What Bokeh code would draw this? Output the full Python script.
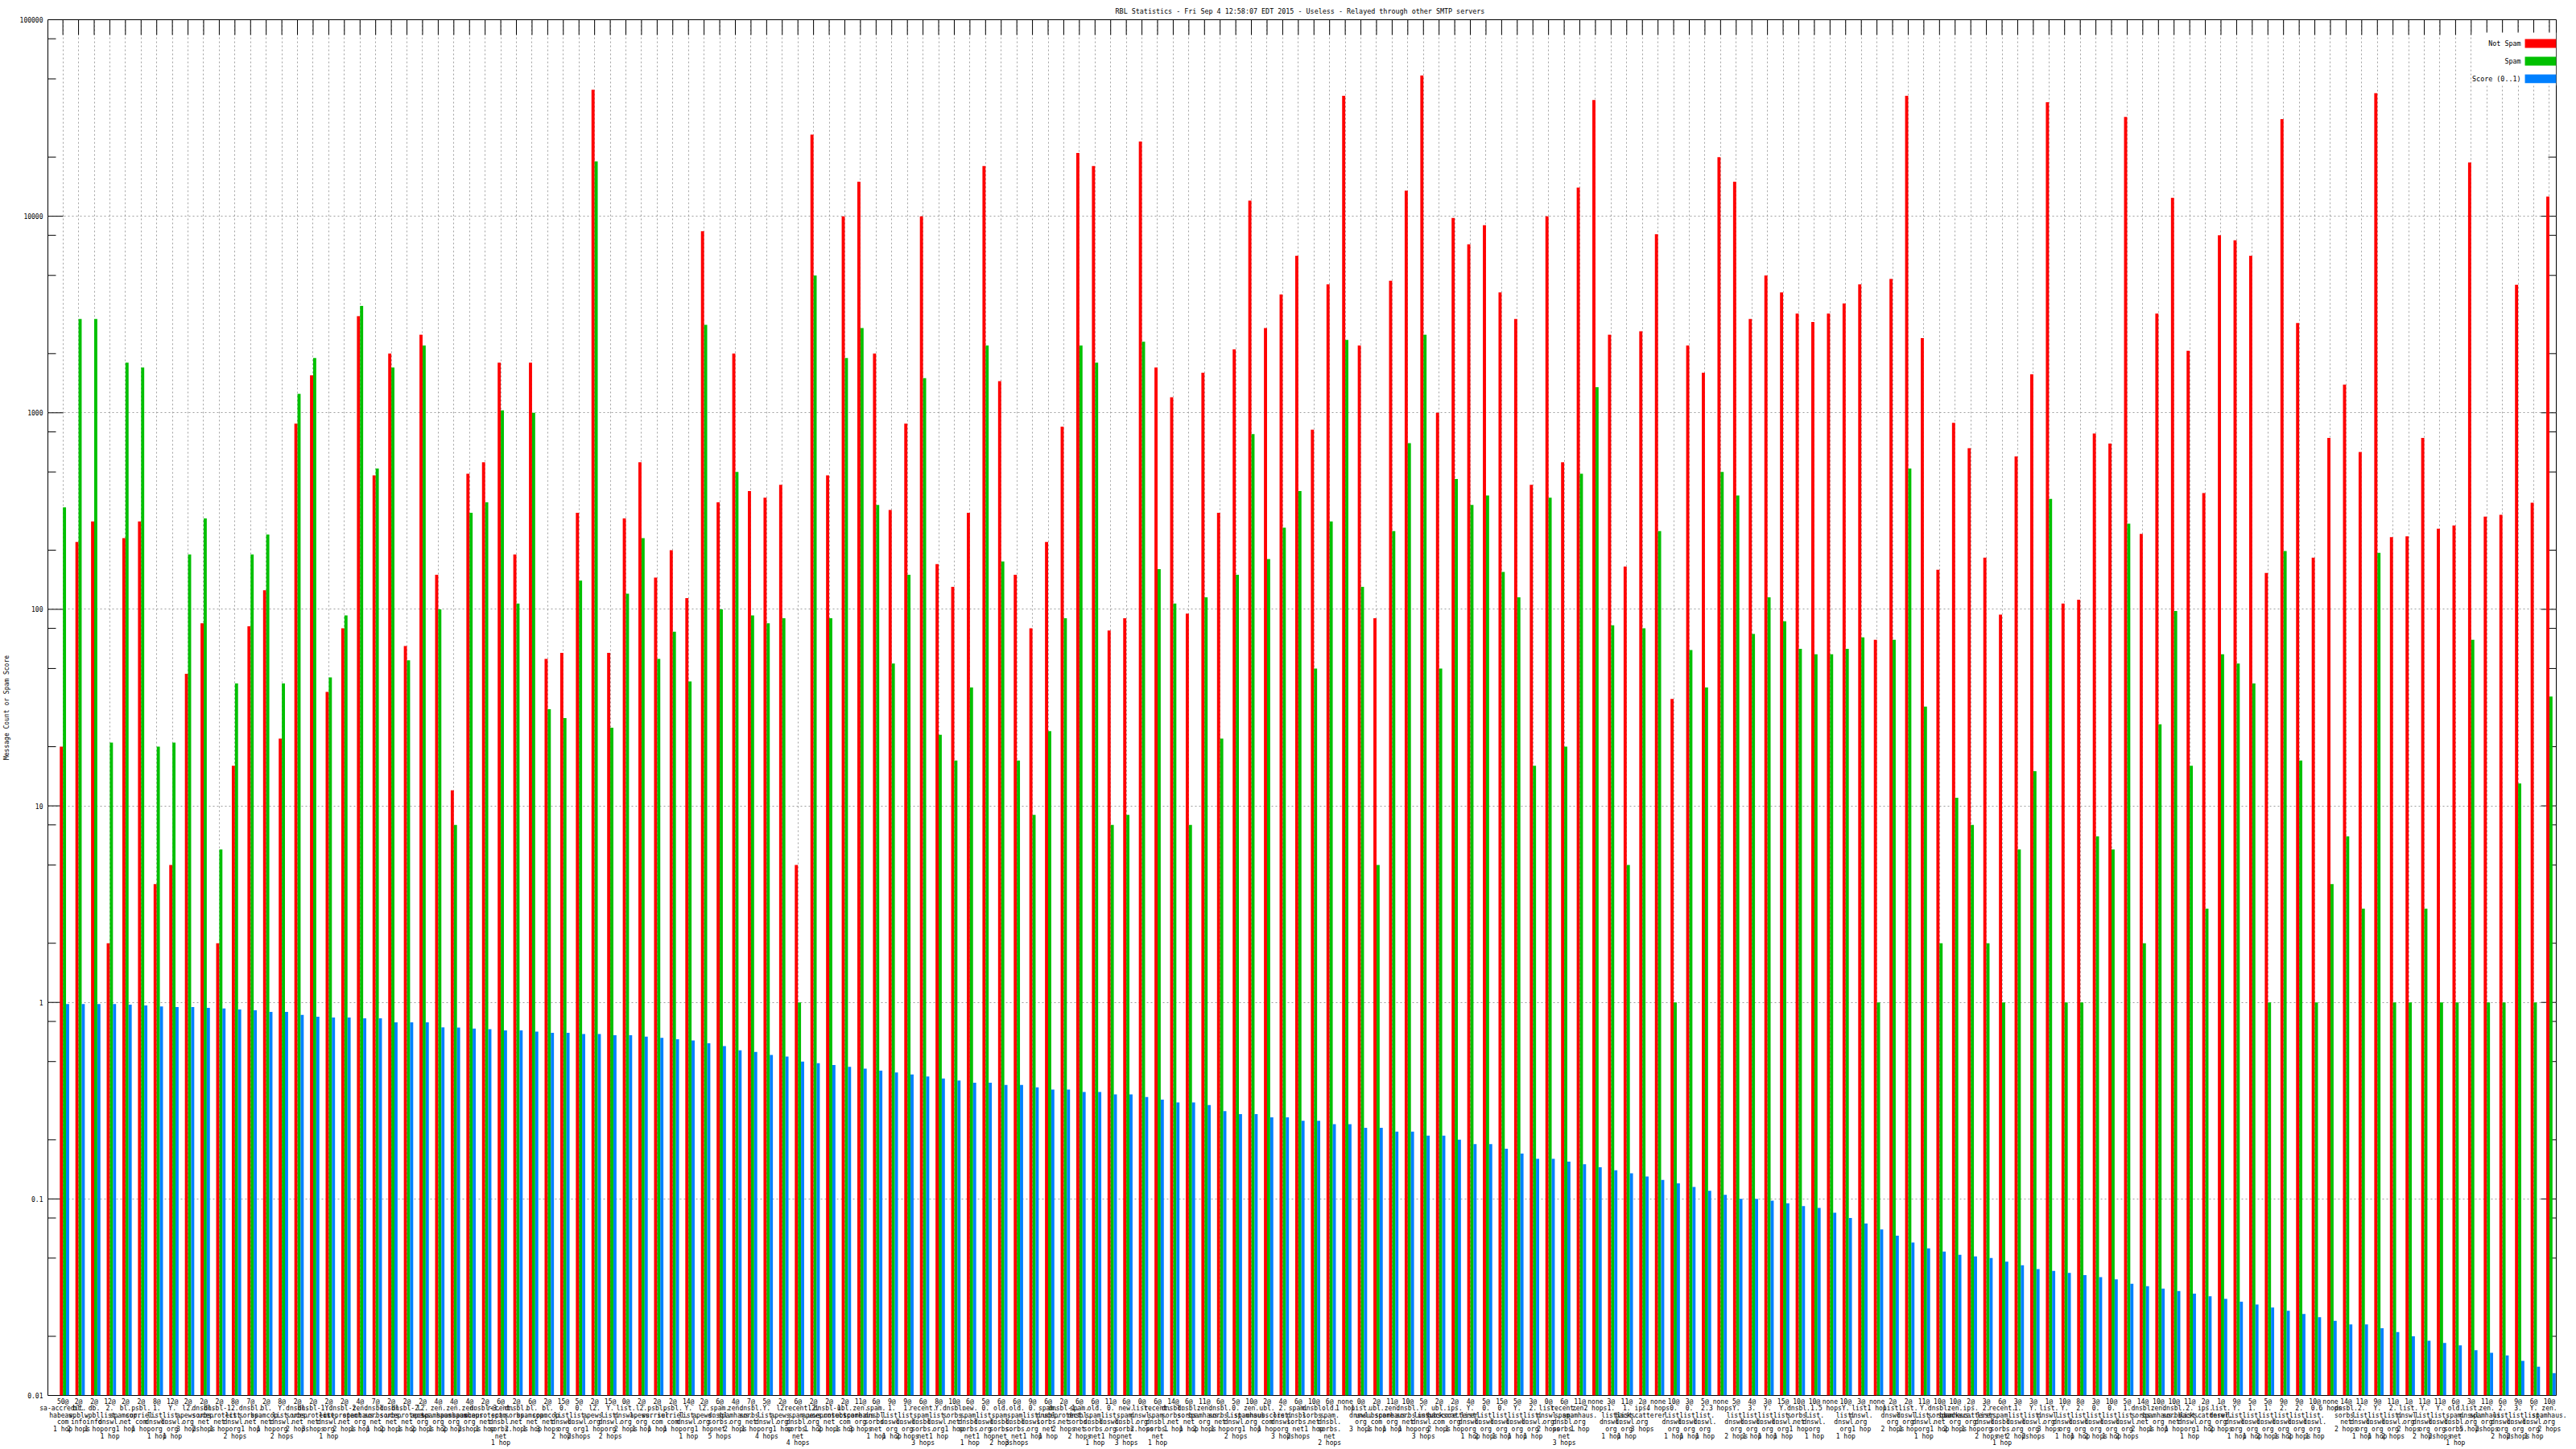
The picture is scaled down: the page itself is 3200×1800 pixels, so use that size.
from bokeh.plotting import figure
from bokeh.models import (ColumnDataSource, Range1d, FixedTicker, LinearAxis, Label, BoxAnnotation)
from bokeh.embed import file_html
from bokeh.resources import INLINE

TITLE = "RBL Statistics - Fri Sep  4 12:58:07 EDT 2015 - Useless - Relayed through other SMTP servers"
Y_LABEL = "Message Count or Spam Score"
SERIES = ["Not Spam", "Spam", "Score (0..1)"]
COLORS = ["#ff0000", "#00c000", "#0080ff"]

# first label row: hit marker (None -> "none")
hits = [50, 2, 2, 12, 2, 2, 8, 12, 2, 2, 2, 8, 7, 2, 8, 2, 2, 2, 2, 4, 7, 2, 2, 2, 4,
        4, 4, 2, 6, 2, 6, 2, 15, 5, 2, 15, 0, 2, 2, 2, 14, 2, 6, 4, 7, 5, 2, 6, 2, 2, 2, 11,
        6, 9, 9, 6, 8, 10, 6, 5, 6, 6, 9, 6, 2, 6, 6, 11, 6, 0, 6, 14, 6, 11, 6, 5, 10, 2, 4,
        6, 10, 6, None, 0, 2, 11, 10, 5, 2, 2, 4, 5, 15, 5, 3, 0, 6, 11, None, 3, 11, 2, None, 10, 3, 5,
        None, 5, 4, 3, 15, 10, 10, None, 10, 3, None, 2, 2, 11, 10, 10, 2, 3, 6, 3, 3, 1, 10, 8, 3, 10,
        5, 14, 10, 10, 11, 2, 1, 9, 5, 5, 9, 9, 10, None, 14, 11, 9, 11, 1, 11, 11, 6, 3, 11, 6, 9, 6, 10]

zones = [
    "sa-accredit.habeas.com", "bl.wpbl.info", "db.wpbl.info", "2.list.dnswl.org", "bl.spamcop.net",
    "psbl.surriel.com", "1.list.dnswl.org", "Y.list.dnswl.org", "l2.apews.org", "dnsbl.sorbs.net",
    "dnsbl-1.uceprotect.net", "2.list.dnswl.org", "dnsbl.sorbs.net", "bl.spamcop.net", "Y.list.dnswl.org",
    "dnsbl.sorbs.net", "dnsbl-1.uceprotect.net", "Y.list.dnswl.org", "dnsbl-2.uceprotect.net", "zen.spamhaus.org",
    "dnsbl.sorbs.net", "dnsbl.sorbs.net", "dnsbl-2.uceprotect.net", "l2.apews.org", "zen.spamhaus.org",
    "zen.spamhaus.org", "zen.spamhaus.org", "dnsbl-3.uceprotect.net", "recent.spam.dnsbl.sorbs.net", "dnsbl.sorbs.net",
    "bl.spamcop.net", "bl.spamcop.net", "0.list.dnswl.org", "0.list.dnswl.org", "l2.apews.org",
    "Y.list.dnswl.org", "list.dnswl.org", "l2.apews.org", "psbl.surriel.com", "psbl.surriel.com",
    "Y.list.dnswl.org", "l2.apews.org", "spam.dnsbl.sorbs.net", "zen.spamhaus.org", "dnsbl.sorbs.net",
    "Y.list.dnswl.org", "l2.apews.org", "recent.spam.dnsbl.sorbs.net", "l2.apews.org", "dnsbl-1.uceprotect.net",
    "ubl.unsubscore.com", "zen.spamhaus.org", "spam.dnsbl.sorbs.net", "1.list.dnswl.org", "1.list.dnswl.org",
    "recent.spam.dnsbl.sorbs.net", "Y.list.dnswl.org", "dnsbl.sorbs.net", "new.spam.dnsbl.sorbs.net", "0.list.dnswl.org",
    "old.spam.dnsbl.sorbs.net", "old.spam.dnsbl.sorbs.net", "0.list.dnswl.org", "spam.dnsbl.sorbs.net", "dnsbl-1.uceprotect.net",
    "spam.dnsbl.sorbs.net", "old.spam.dnsbl.sorbs.net", "0.list.dnswl.org", "new.spam.dnsbl.sorbs.net", "list.dnswl.org",
    "recent.spam.dnsbl.sorbs.net", "dnsbl.sorbs.net", "dnsbl.sorbs.net", "zen.spamhaus.org", "dnsbl.sorbs.net",
    "0.list.dnswl.org", "zen.spamhaus.org", "ubl.unsubscore.com", "2.list.dnswl.org", "spam.dnsbl.sorbs.net",
    "dnsbl.sorbs.net", "old.spam.dnsbl.sorbs.net", "", "list.dnswl.org", "ubl.unsubscore.com",
    "zen.spamhaus.org", "dnsbl.sorbs.net", "Y.list.dnswl.org", "ubl.unsubscore.com", "ips.backscatterer.org",
    "Y.list.dnswl.org", "0.list.dnswl.org", "0.list.dnswl.org", "Y.list.dnswl.org", "2.list.dnswl.org",
    "list.dnswl.org", "recent.spam.dnsbl.sorbs.net", "zen.spamhaus.org", "", "1.list.dnswl.org",
    "1.list.dnswl.org", "ips.backscatterer.org", "", "0.list.dnswl.org", "0.list.dnswl.org",
    "2.list.dnswl.org", "", "Y.list.dnswl.org", "3.list.dnswl.org", "Y.list.dnswl.org",
    "Y.list.dnswl.org", "dnsbl.sorbs.net", "1.list.dnswl.org", "", "Y.list.dnswl.org",
    "list.dnswl.org", "", "list.dnswl.org", "list.dnswl.org", "Y.list.dnswl.org",
    "dnsbl.sorbs.net", "zen.spamhaus.org", "ips.backscatterer.org", "2.list.dnswl.org", "recent.spam.dnsbl.sorbs.net",
    "1.list.dnswl.org", "Y.list.dnswl.org", "list.dnswl.org", "Y.list.dnswl.org", "2.list.dnswl.org",
    "0.list.dnswl.org", "0.list.dnswl.org", "1.list.dnswl.org", "dnsbl.sorbs.net", "zen.spamhaus.org",
    "dnsbl.sorbs.net", "2.list.dnswl.org", "ips.backscatterer.org", "list.dnswl.org", "Y.list.dnswl.org",
    "1.list.dnswl.org", "1.list.dnswl.org", "2.list.dnswl.org", "2.list.dnswl.org", "0.list.dnswl.org",
    "", "dnsbl.sorbs.net", "2.list.dnswl.org", "Y.list.dnswl.org", "2.list.dnswl.org",
    "list.dnswl.org", "Y.list.dnswl.org", "Y.list.dnswl.org", "old.spam.dnsbl.sorbs.net", "list.dnswl.org",
    "zen.spamhaus.org", "2.list.dnswl.org", "3.list.dnswl.org", "Y.list.dnswl.org", "zen.spamhaus.org",
]

hops = [1, 2, 1, 1, 1, 1, 1, 1, 3, 2, 1, 2, 1, 1, 2, 2, 3, 1, 2, 1, 1, 2, 1, 2, 1,
        2, 2, 1, 1, 2, 1, 3, 2, 2, 1, 2, 2, 1, 1, 1, 1, 1, 5, 2, 1, 4, 1, 4, 1, 2, 1, 3,
        1, 1, 2, 3, 1, 1, 1, 1, 2, 3, 1, 1, 2, 2, 1, 1, 3, 2, 1, 1, 1, 2, 1, 2, 1, 1, 3,
        2, 1, 2, 1, 3, 1, 1, 1, 3, 2, 1, 1, 2, 1, 1, 1, 2, 3, 1, 2, 1, 1, 3, 4, 1, 1, 1,
        3, 2, 1, 1, 1, 1, 1, 5, 1, 1, 1, 2, 1, 1, 1, 2, 1, 2, 1, 2, 2, 3, 1, 1, 2, 1,
        2, 2, 1, 1, 1, 1, 2, 1, 1, 2, 1, 2, 1, 6, 2, 1, 1, 2, 2, 2, 2, 1, 5, 2, 2, 2, 1, 2]

not_spam = [20, 220, 280, 2, 230, 280, 4, 5, 47, 85,
            2, 16, 82, 125, 22, 880, 1550, 38, 80, 3100,
            480, 2000, 65, 2500, 150, 12, 490, 560, 1800, 190,
            1800, 56, 60, 310, 44000, 60, 290, 560, 145, 200,
            114, 8400, 350, 2000, 400, 370, 430, 5, 26000, 480,
            10000, 15000, 2000, 320, 880, 10000, 170, 130, 310, 18000,
            1450, 150, 80, 220, 850, 21000, 18000, 78, 90, 24000,
            1700, 1200, 95, 1600, 310, 2100, 12000, 2700, 4000, 6300,
            820, 4500, 41000, 2200, 90, 4700, 13500, 52000, 1000, 9800,
            7200, 9000, 4100, 3000, 430, 10000, 560, 14000, 39000, 2500,
            165, 2600, 8100, 35, 2200, 1600, 20000, 15000, 3000, 5000,
            4100, 3200, 2900, 3200, 3600, 4500, 70, 4800, 41000, 2400,
            159, 890, 660, 183, 94, 600, 1570, 38000, 107, 112,
            785, 697, 32000, 242, 3200, 12400, 2070, 390, 8000, 7540,
            6300, 153, 31200, 2860, 183, 745, 1390, 632, 42300, 233,
            235, 745, 257, 267, 18800, 296, 303, 4480, 349, 12600]

spam = [330, 3000, 3000, 21, 1800, 1700, 20, 21, 190, 290,
        6, 42, 190, 240, 42, 1250, 1900, 45, 93, 3500,
        520, 1700, 55, 2200, 100, 8, 310, 350, 1030, 107,
        1000, 31, 28, 140, 19000, 25, 120, 230, 56, 77,
        43, 2800, 100, 500, 93, 85, 90, 1, 5000, 90,
        1900, 2700, 340, 53, 150, 1500, 23, 17, 40, 2200,
        175, 17, 9, 24, 90, 2200, 1800, 8, 9, 2300,
        160, 107, 8, 115, 22, 150, 780, 180, 260, 400,
        50, 280, 2350, 130, 5, 250, 700, 2500, 50, 460,
        340, 380, 155, 115, 16, 370, 20, 490, 1350, 83,
        5, 80, 250, 1, 62, 40, 500, 380, 75, 115,
        87, 63, 59, 59, 63, 72, 1, 70, 520, 32,
        2, 11, 8, 2, 1, 6, 15, 365, 1, 1,
        7, 6, 273, 2, 26, 98, 16, 3, 59, 53,
        42, 1, 198, 17, 1, 4, 7, 3, 194, 1,
        1, 3, 1, 1, 70, 1, 1, 13, 1, 36]

score = [0.982, 0.982, 0.982, 0.982, 0.975, 0.965, 0.954, 0.947, 0.947, 0.937,
         0.931, 0.921, 0.911, 0.895, 0.895, 0.863, 0.845, 0.838, 0.838, 0.829,
         0.829, 0.791, 0.791, 0.791, 0.747, 0.745, 0.735, 0.73, 0.72, 0.72,
         0.71, 0.70, 0.70, 0.69, 0.69, 0.68, 0.68, 0.67, 0.66, 0.65,
         0.64, 0.62, 0.60, 0.57, 0.56, 0.54, 0.53, 0.50, 0.49, 0.48,
         0.47, 0.46, 0.45, 0.44, 0.43, 0.42, 0.41, 0.40, 0.39, 0.39,
         0.38, 0.38, 0.37, 0.36, 0.36, 0.35, 0.35, 0.34, 0.34, 0.33,
         0.32, 0.31, 0.31, 0.30, 0.28, 0.27, 0.27, 0.26, 0.26, 0.25,
         0.25, 0.24, 0.24, 0.23, 0.23, 0.22, 0.22, 0.21, 0.21, 0.20,
         0.19, 0.19, 0.18, 0.17, 0.16, 0.16, 0.155, 0.15, 0.145, 0.14,
         0.135, 0.13, 0.125, 0.12, 0.115, 0.11, 0.105, 0.10, 0.10, 0.098,
         0.095, 0.092, 0.09, 0.085, 0.08, 0.075, 0.07, 0.065, 0.06, 0.056,
         0.054, 0.052, 0.051, 0.050, 0.048, 0.046, 0.044, 0.043, 0.042, 0.041,
         0.040, 0.039, 0.037, 0.036, 0.035, 0.034, 0.033, 0.032, 0.031, 0.030,
         0.029, 0.028, 0.027, 0.026, 0.025, 0.024, 0.023, 0.023, 0.022, 0.021,
         0.020, 0.019, 0.0185, 0.018, 0.017, 0.0165, 0.016, 0.015, 0.014, 0.013]

y_ticks = [0.01, 0.1, 1, 10, 100, 1000, 10000, 100000]
y_tick_labels = ["0.01", "0.1", "1", "10", "100", "1000", "10000", "100000"]

# ---------------- layout geometry (page pixels; the page has no margin) ----------------
W, H = 3200, 1800
F_LEFT, F_RIGHT, F_TOP, F_BOTTOM = 55, 3175, 24, 1736
X0, X1 = -0.96, 159.44
LY0, LY1 = -2.0, 5.0
FONT = "DejaVu Sans Mono"
MAJOR_LEN, MINOR_LEN = 19, 10


def xd(px):
    return X0 + (px - F_LEFT) * (X1 - X0) / (F_RIGHT - F_LEFT)


def yd(py):
    return 10 ** (LY1 - (py - F_TOP) * (LY1 - LY0) / (F_BOTTOM - F_TOP))


n = len(not_spam)
idx = list(range(n))
labels = []
for i in idx:
    hop = "1 hop" if hops[i] == 1 else f"{hops[i]} hops"
    if hits[i] is None:
        labels.append("none\n" + hop)
    else:
        labels.append(f"{hits[i]}@\n" + zones[i].replace(".", ".\n") + "\n" + hop)

src = ColumnDataSource(dict(
    x=idx, not_spam=not_spam, spam=spam, score=score,
    xr=[i - 0.1 for i in idx], xg=[i + 0.1 for i in idx], xb=[i + 0.3 for i in idx],
    base=[y_ticks[0]] * n,
))

p = figure(width=W, height=H, output_backend="svg", toolbar_location=None,
           x_range=Range1d(X0, X1), y_range=Range1d(y_ticks[0], y_ticks[-1]),
           y_axis_type="log", x_axis_location=None,
           min_border_left=F_LEFT, min_border_right=W - F_RIGHT,
           min_border_top=F_TOP, min_border_bottom=H - F_BOTTOM)
p.background_fill_color = "white"
p.border_fill_color = "white"
p.outline_line_color = "black"
p.outline_line_width = 1
p.outline_line_alpha = 1

# title
p.title.text = TITLE
p.title.align = "center"
p.title.text_font = FONT
p.title.text_font_size = "8.4px"
p.title.text_font_style = "normal"
p.title.text_color = "black"
p.title.standoff = 11

# grids
p.xgrid.ticker = FixedTicker(ticks=idx)
p.ygrid.ticker = FixedTicker(ticks=y_ticks)
for g in (p.xgrid, p.ygrid):
    g.grid_line_color = "#a0a0a0"
    g.grid_line_dash = "2 3"
    g.grid_line_width = 1

minor = [m * t for t in y_ticks[:-1] for m in (2, 5, 8)]

# left axis: labels only (tick marks are drawn beneath the bars below)
ax = p.yaxis[0]
ax.ticker = FixedTicker(ticks=y_ticks, minor_ticks=minor)
ax.major_tick_in = 0
ax.major_tick_out = 0
ax.minor_tick_in = 0
ax.minor_tick_out = 0
ax.axis_line_color = None
ax.major_label_overrides = {t: s for t, s in zip(y_ticks, y_tick_labels)}
ax.major_label_text_font = FONT
ax.major_label_text_font_size = "8px"
ax.major_label_text_color = "black"
ax.major_label_standoff = 6
ax.axis_label = Y_LABEL
ax.axis_label_text_font = FONT
ax.axis_label_text_font_size = "8px"
ax.axis_label_text_font_style = "normal"
ax.axis_label_text_color = "black"
ax.axis_label_standoff = 9

# bottom axis carrying the multi-line category labels
bx = LinearAxis(ticker=FixedTicker(ticks=idx, minor_ticks=[]))
bx.major_label_overrides = {i: labels[i] for i in idx}
bx.major_tick_in = 0
bx.major_tick_out = 0
bx.minor_tick_in = 0
bx.minor_tick_out = 0
bx.axis_line_color = None
bx.major_label_standoff = 3
bx.major_label_text_font = FONT
bx.major_label_text_font_size = "8px"
bx.major_label_text_line_height = 0.96
bx.major_label_text_color = "black"
p.add_layout(bx, "below")

# tick marks on all four frame edges (inward), drawn beneath the bars
top_ticks = ColumnDataSource(dict(x=idx, y0=[y_ticks[-1]] * n, y1=[yd(F_TOP + MAJOR_LEN)] * n))
p.segment(x0="x", y0="y0", x1="x", y1="y1", source=top_ticks, line_color="black", line_width=1)
ry = y_ticks + minor
rlen = [MAJOR_LEN] * len(y_ticks) + [MINOR_LEN] * len(minor)
side_ticks = ColumnDataSource(dict(
    y=ry,
    lx0=[X0] * len(ry), lx1=[xd(F_LEFT + L) for L in rlen],
    rx0=[X1] * len(ry), rx1=[xd(F_RIGHT - L) for L in rlen],
))
p.segment(x0="lx0", y0="y", x1="lx1", y1="y", source=side_ticks, line_color="black", line_width=1)
p.segment(x0="rx0", y0="y", x1="rx1", y1="y", source=side_ticks, line_color="black", line_width=1)

# bars
p.vbar(x="xr", width=0.2, top="not_spam", bottom="base", source=src,
       fill_color=COLORS[0], line_color=None)
p.vbar(x="xg", width=0.2, top="spam", bottom="base", source=src,
       fill_color=COLORS[1], line_color=None)
p.vbar(x="xb", width=0.2, top="score", bottom="base", source=src,
       fill_color=COLORS[2], line_color=None)

# key (text left, swatch right), opaque background
p.add_layout(BoxAnnotation(left=xd(3070), right=xd(3175), top=yd(40), bottom=yd(106),
                           fill_color="white", fill_alpha=1, line_color=None))
for k, (name, col) in enumerate(zip(SERIES, COLORS)):
    y_top, y_bot = 48 + 22 * k, 59 + 22 * k
    p.add_layout(BoxAnnotation(left=xd(3136), right=xd(3175), top=yd(y_top), bottom=yd(y_bot),
                               fill_color=col, fill_alpha=1, line_color=None))
    p.add_layout(Label(x=xd(3131), y=yd((y_top + y_bot) / 2), text=name, text_align="right",
                       text_baseline="middle", text_font=FONT, text_font_size="8.4px",
                       text_color="black"))

open("out.html", "w").write(file_html(p, INLINE))
